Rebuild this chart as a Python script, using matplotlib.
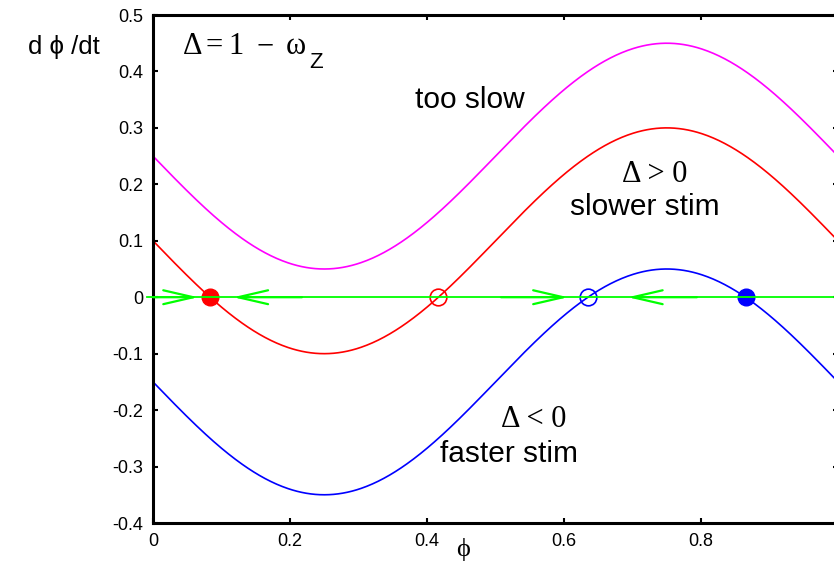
import numpy as np
import matplotlib
matplotlib.use("Agg")
import matplotlib.pyplot as plt

plt.rcParams["font.family"] = ["Liberation Sans", "DejaVu Sans"]

# phase-response model: d(phi)/dt = offset - amplitude * sin(2 pi phi)
curve_names = ["too slow", "slower stim", "faster stim"]
curve_offsets = [0.25, 0.10, -0.15]
curve_amplitude = 0.20
curve_colors = ["#ff00ff", "#ff0000", "#0000ff"]

# fixed points on the phi axis
red_stable = [0.0833]
red_unstable = [0.4167]
blue_unstable = [0.635]
blue_stable = [0.865]

# flow arrows along d(phi)/dt = 0 : (start, end)
flow_arrows = [(0.0, 0.066), (0.2175, 0.117), (0.508, 0.606), (0.794, 0.693)]

x_ticks = [0, 0.2, 0.4, 0.6, 0.8]
x_tick_labels = ["0", "0.2", "0.4", "0.6", "0.8"]
y_ticks = [-0.4, -0.3, -0.2, -0.1, 0, 0.1, 0.2, 0.3, 0.4, 0.5]
y_tick_labels = ["-0.4", "-0.3", "-0.2", "-0.1", "0", "0.1", "0.2", "0.3", "0.4", "0.5"]

W, H = 834, 562
fig = plt.figure(figsize=(W / 100, H / 100), dpi=100)
ax = fig.add_axes([153 / W, 39 / H, 685 / W, 508 / H])

phi = np.linspace(0, 1, 600)
for off, col in zip(curve_offsets, curve_colors):
    ax.plot(phi, off - curve_amplitude * np.sin(2 * np.pi * phi), color=col, lw=1.2, zorder=2)

ms = 12
ax.plot(red_stable, [0] * len(red_stable), "o", color="#ff0000", ms=ms, zorder=3)
ax.plot(red_unstable, [0] * len(red_unstable), "o", mfc="none", mec="#ff0000", mew=1.2, ms=ms, zorder=3)
ax.plot(blue_unstable, [0] * len(blue_unstable), "o", mfc="none", mec="#0000ff", mew=1.2, ms=ms, zorder=3)
ax.plot(blue_stable, [0] * len(blue_stable), "o", color="#0000ff", ms=ms, zorder=3)

ax.plot([-0.009, 1.0], [0, 0], color="#00ff00", lw=1.3, zorder=4, clip_on=False)
for x0, x1 in flow_arrows:
    ax.annotate("", xy=(x1, 0), xytext=(x0, 0),
                arrowprops=dict(arrowstyle="->,head_length=1.08,head_width=0.25",
                                color="#00ff00", lw=1.6, mutation_scale=20,
                                shrinkA=0, shrinkB=0),
                zorder=4)

ax.set_xlim(0, 1)
ax.set_ylim(-0.4, 0.5)
ax.set_xticks(x_ticks)
ax.set_xticklabels(x_tick_labels)
ax.set_yticks(y_ticks)
ax.set_yticklabels(y_tick_labels)
ax.tick_params(direction="in", length=3.6, width=1.5, top=True, right=True,
               labelsize=13, colors="black")
ax.tick_params(axis="x", pad=7)
ax.tick_params(axis="y", pad=7)
for sp in ax.spines.values():
    sp.set_linewidth(2.2)

serif = ["Liberation Serif", "DejaVu Serif"]
sans = ["Liberation Sans", "DejaVu Sans"]

fig.text(28 / W, 1 - 47 / H, "d ϕ /dt", fontsize=18.5, ha="left", va="center", family=sans)
fig.text(463 / W, 1 / H, "ϕ", fontsize=19, ha="center", va="bottom", family=serif)

# Δ = 1 − ω_Z, set piece by piece with a sans subscript
for s, xc in [("Δ", 0.0584), ("=", 0.0898), ("1", 0.1212), ("−", 0.1635), ("ω", 0.208)]:
    ax.text(xc, 0.4305, s, fontsize=22, ha="center", va="baseline", family=serif)
ax.text(0.238, 0.4057, "Z", fontsize=16, ha="center", va="baseline", family=sans)

ax.text(0.4628, 0.335, "too slow", fontsize=21.5, ha="center", va="baseline", family=sans)
ax.text(0.733, 0.204, "Δ > 0", fontsize=22, ha="center", va="baseline", family=serif)
ax.text(0.7175, 0.145, "slower stim", fontsize=21.5, ha="center", va="baseline", family=sans)
ax.text(0.5555, -0.230, "Δ < 0", fontsize=22, ha="center", va="baseline", family=serif)
ax.text(0.519, -0.292, "faster stim", fontsize=21.5, ha="center", va="baseline", family=sans)

fig.savefig("out.png", dpi=100)
